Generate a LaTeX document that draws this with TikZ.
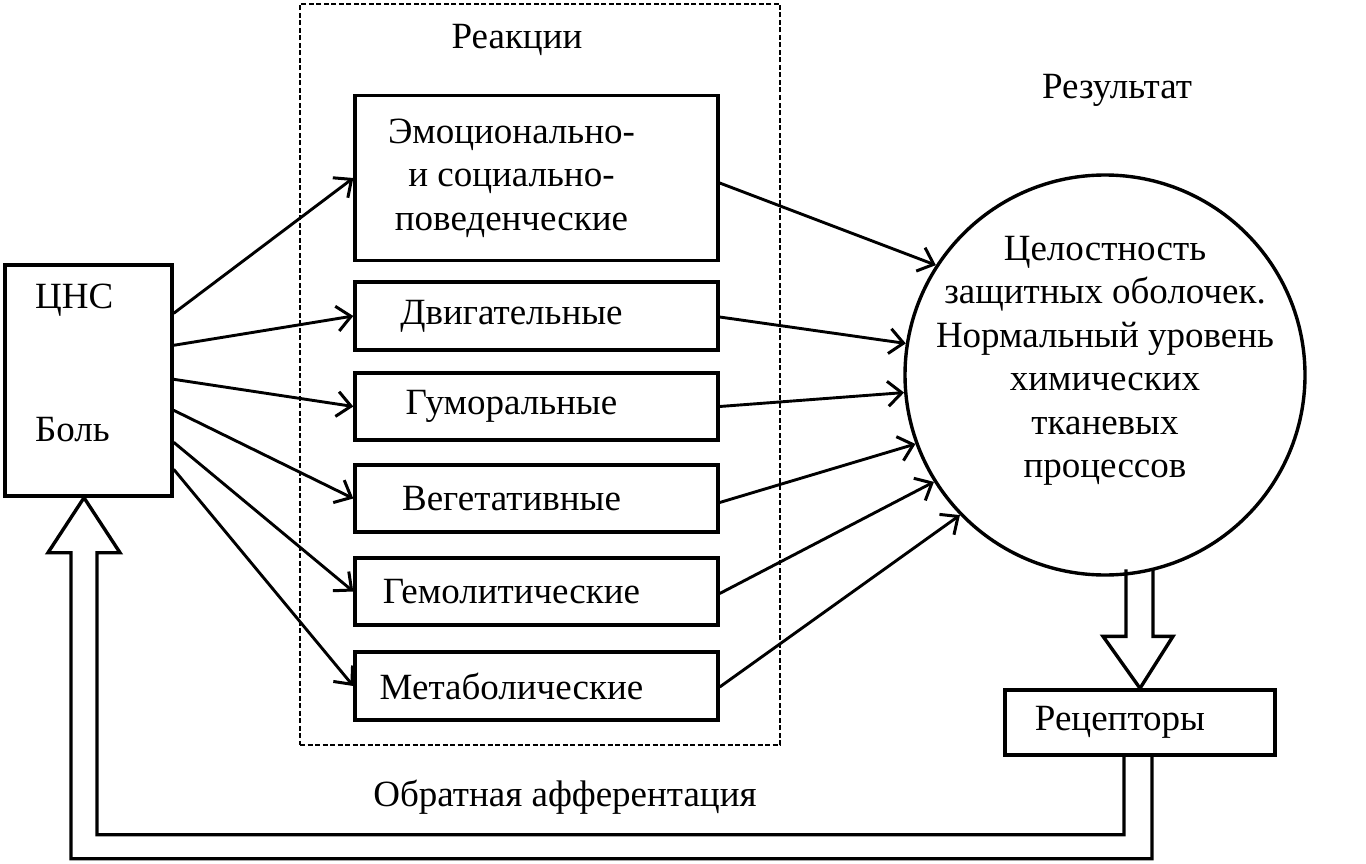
\documentclass[tikz,border=0pt]{standalone}
\usepackage{fontspec}
\setmainfont{Liberation Serif}
\usetikzlibrary{arrows.meta,calc}
\newcommand\fsz{\fontsize{37}{43.5}\selectfont}
\tikzset{
  box/.style={draw, line width=3.4pt, minimum width=363pt, inner sep=0pt},
  lbl/.style={font=\fsz, xshift=-25pt, align=center},
  txt/.style={font=\fsz, inner sep=0pt, align=center},
  arr/.style={-{Straight Barb[length=14pt,width=25pt,line width=3pt]}, line width=2.9pt},
  hollow/.style={line width=3.4pt, line join=miter},
}
\begin{document}
\begin{tikzpicture}[x=1pt,y=-1pt]
\useasboundingbox (0,0) rectangle (1366,864);
% dashed frame
\node[draw, dash pattern=on 5pt off 2.5pt, line width=2.8pt, minimum width=480pt, minimum height=741pt, inner sep=0pt] (reac) at (540,374.5) {};
\node[txt] (reactitle) at (517,40) {Реакции};
% CNS box
\node[draw, line width=3.4pt, minimum width=167pt, minimum height=231pt, inner sep=0pt] (cns) at (88.5,380.5) {};
\node[txt, anchor=west] (cnst) at (35,300) {ЦНС};
\node[txt, anchor=west] (pain) at (35,430) {Боль};
% reaction boxes
\node[box, minimum height=165pt, label={[lbl]center:Эмоционально-\\и социально-\\поведенческие}] (b1) at (536.5,178) {};
\node[box, minimum height=68pt, label={[lbl]center:Двигательные}] (b2) at (536.5,316) {};
\node[box, minimum height=67pt, label={[lbl]center:Гуморальные}] (b3) at (536.5,406.5) {};
\node[box, minimum height=67pt, label={[lbl]center:Вегетативные}] (b4) at (536.5,498.5) {};
\node[box, minimum height=67pt, label={[lbl]center:Гемолитические}] (b5) at (536.5,591.5) {};
\node[box, minimum height=68pt, label={[lbl]center:Метаболические}] (b6) at (536.5,686) {};
% result circle
\node[txt] (restitle) at (1117,90) {Результат};
\node[draw, circle, line width=3.4pt, minimum size=400pt, inner sep=0pt,
  label={[txt, yshift=14pt]center:Целостность\\защитных оболочек.\\Нормальный уровень\\химических\\тканевых\\процессов}] (circ) at (1105,375) {};
% receptors
\node[draw, line width=3.4pt, minimum width=270pt, minimum height=65pt, inner sep=0pt,
  label={[lbl, xshift=5pt]center:Рецепторы}] (rec) at (1140,722.5) {};
\node[txt] (feed) at (565,797) {Обратная афферентация};
% arrows CNS -> reactions
\draw[arr] ($(cns.north east)+(0,50)$) -- (b1.west);
\draw[arr] ($(cns.north east)+(0,82)$) -- (b2.west);
\draw[arr] ($(cns.north east)+(0,116)$) -- (b3.west);
\draw[arr] ($(cns.north east)+(0,147)$) -- (b4.west);
\draw[arr] ($(cns.north east)+(0,179)$) -- (b5.west);
\draw[arr] ($(cns.north east)+(0,206)$) -- (b6.west);
% arrows reactions -> result
\draw[arr] ($(b1.east)+(0,5)$) -- (circ.147);
\draw[arr] ($(b2.east)+(0,1)$) -- (circ.171);
\draw[arr] (b3.east) -- (circ.185);
\draw[arr] ($(b4.east)+(0,4)$) -- (circ.200);
\draw[arr] ($(b5.east)+(0,2)$) -- (circ.212);
\draw[arr] ($(b6.east)+(0,1)$) -- (circ.224);
% hollow arrow circle -> receptors
\coordinate (rn) at (rec.north);
\draw[hollow] ($(rn)+(-14,-119)$) -- ($(rn)+(-14,-52)$) -- ($(rn)+(-37,-52)$) -- (rn)
  -- ($(rn)+(33,-52)$) -- ($(rn)+(13,-52)$) -- ($(rn)+(13,-119)$);
% feedback hollow arrow receptors -> CNS
\coordinate (rt) at (rec.south);
\coordinate (ft) at ($(cns.south)+(-4.5,0)$);
\draw[hollow] ($(rt)+(12,0)$) |- ($(ft)+(-13,361)$) -- ($(ft)+(-13,55)$) -- ($(ft)+(-36,55)$) -- (ft)
  -- ($(ft)+(36,55)$) -- ($(ft)+(13,55)$) |- ($(rt)+(-16,78)$) -- ($(rt)+(-16,0)$);
\end{tikzpicture}
\end{document}
